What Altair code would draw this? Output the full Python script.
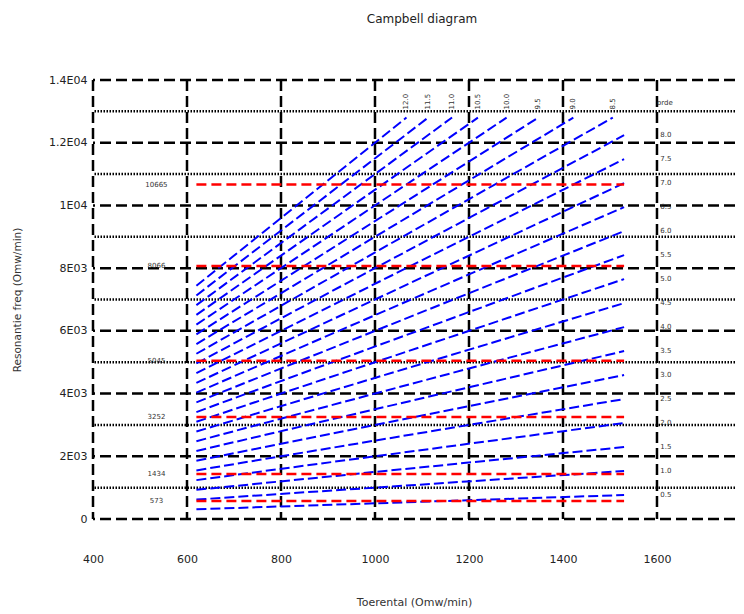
import altair as alt
import pandas as pd

# ---- data ----
orders = [0.5, 1.0, 1.5, 2.0, 2.5, 3.0, 3.5, 4.0, 4.5, 5.0, 5.5, 6.0,
          6.5, 7.0, 7.5, 8.0, 8.5, 9.0, 9.5, 10.0, 10.5, 11.0, 11.5, 12.0]
rpm_start = 620
rpm_end = [1530, 1530, 1530, 1530, 1530, 1530, 1530, 1530, 1530, 1530, 1530, 1530,
           1530, 1530, 1530, 1530, 1506, 1422, 1347, 1280, 1219, 1164, 1113, 1067]
resonances = [573, 1434, 3252, 5045, 8066, 10665]
x_ticks = [400, 600, 800, 1000, 1200, 1400, 1600]
y_major = [0, 2000, 4000, 6000, 8000, 10000, 12000, 14000]
y_minor = [1000, 3000, 5000, 7000, 9000, 11000, 13000]
y_tick_labels = ["0", "2E03", "4E03", "6E03", "8E03", "1E04", "1.2E04", "1.4E04"]
order_cap = 8.0          # orders above this are labelled on top
right_label_rpm = 1607
top_label_freq = 13060
orde_pos = (1600, 13280)
res_label_rpm = 535

FONT = "DejaVu Sans"

xs = alt.Scale(domain=[400, 1766], nice=False, zero=False)
ys = alt.Scale(domain=[0, 14000], nice=False, zero=True)

label_expr = "".join(
    f"datum.value == {v} ? '{t}' : " for v, t in zip(y_major, y_tick_labels)
) + "''"

xaxis = alt.Axis(values=x_ticks, format="d", title="Toerental (Omw/min)", grid=False, ticks=False,
                 domain=False, labelFont=FONT, labelFontSize=11, labelPadding=34,
                 labelColor="#222", labelFlush=False, labelOverlap=False,
                 titleFont=FONT, titleFontSize=11, titleFontWeight="normal",
                 titlePadding=32, titleColor="#333")
yaxis = alt.Axis(values=y_major, labelExpr=label_expr, title="Resonantie freq (Omw/min)",
                 grid=False, ticks=False, domain=False, labelFont=FONT, labelFontSize=11,
                 labelPadding=6, labelColor="#222", labelFlush=False, labelOverlap=False,
                 titleFont=FONT, titleFontSize=10.5, titleFontWeight="normal",
                 titlePadding=26, titleColor="#333")


def X(f="x"):
    return alt.X(f"{f}:Q", scale=xs, axis=xaxis)


def Y(f="y"):
    return alt.Y(f"{f}:Q", scale=ys, axis=yaxis)


# gridlines
df_major = pd.DataFrame({"y": y_major})
df_minor = pd.DataFrame({"y": y_minor})
df_vert = pd.DataFrame({"x": x_ticks})

major = alt.Chart(df_major).mark_rule(color="black", strokeWidth=2.5, strokeDash=[11, 5]).encode(y=Y())
minor = alt.Chart(df_minor).mark_rule(color="black", strokeWidth=2.5, strokeDash=[1.5, 1.5]).encode(y=Y())
vert = alt.Chart(df_vert).mark_rule(color="black", strokeWidth=2.5, strokeDash=[11, 5]).encode(x=X())

# order lines
df_orders = pd.DataFrame({
    "order": orders,
    "x": [rpm_start] * len(orders),
    "x2": rpm_end,
})
df_orders["y"] = df_orders["order"] * df_orders["x"]
df_orders["y2"] = df_orders["order"] * df_orders["x2"]
blue = alt.Chart(df_orders).mark_rule(color="#0000ff", strokeWidth=2, strokeDash=[10, 4]).encode(
    x=X(), x2="x2:Q", y=Y(), y2="y2:Q")

# resonance lines
df_res = pd.DataFrame({"y": resonances, "x": [rpm_start] * len(resonances),
                       "x2": [1530] * len(resonances)})
red = alt.Chart(df_res).mark_rule(color="#ff0000", strokeWidth=2.5, strokeDash=[10, 5]).encode(
    x=X(), x2="x2:Q", y=Y())

df_res_lab = pd.DataFrame({"x": [res_label_rpm] * len(resonances), "y": resonances,
                           "t": [str(r) for r in resonances]})
res_text = alt.Chart(df_res_lab).mark_text(font=FONT, fontSize=7, color="#333",
                                           align="center", baseline="middle").encode(
    x=X(), y=Y(), text="t:N")

# order labels
low = df_orders[df_orders["order"] <= order_cap]
high = df_orders[df_orders["order"] > order_cap]
df_right = pd.DataFrame({"x": [right_label_rpm] * len(low), "y": low["y2"].values,
                         "t": [f"{o:.1f}" for o in low["order"]]})
df_top = pd.DataFrame({"x": high["x2"].values, "y": [top_label_freq] * len(high),
                       "t": [f"{o:.1f}" for o in high["order"]]})
right_text = alt.Chart(df_right).mark_text(font=FONT, fontSize=7, color="#333",
                                           align="left", baseline="middle").encode(
    x=X(), y=Y(), text="t:N")
top_text = alt.Chart(df_top).mark_text(font=FONT, fontSize=7, color="#333", angle=270,
                                       align="left", baseline="middle").encode(
    x=X(), y=Y(), text="t:N")
df_orde = pd.DataFrame({"x": [orde_pos[0]], "y": [orde_pos[1]], "t": ["orde"]})
orde_text = alt.Chart(df_orde).mark_text(font=FONT, fontSize=7, color="#333",
                                         align="left", baseline="middle").encode(
    x=X(), y=Y(), text="t:N")

chart = alt.layer(major, minor, vert, blue, red, res_text, right_text, top_text, orde_text).properties(
    width=642, height=439,
    title=alt.TitleParams("Campbell diagram", font=FONT, fontSize=12, fontWeight="normal",
                          color="#222", offset=48, dx=8),
    autosize=alt.AutoSizeParams(type="none"),
    padding={"left": 85, "top": 72, "right": 1, "bottom": 90},
).configure_view(stroke=None)

chart.save("out.html", embed_options={"renderer": "svg", "actions": False})
